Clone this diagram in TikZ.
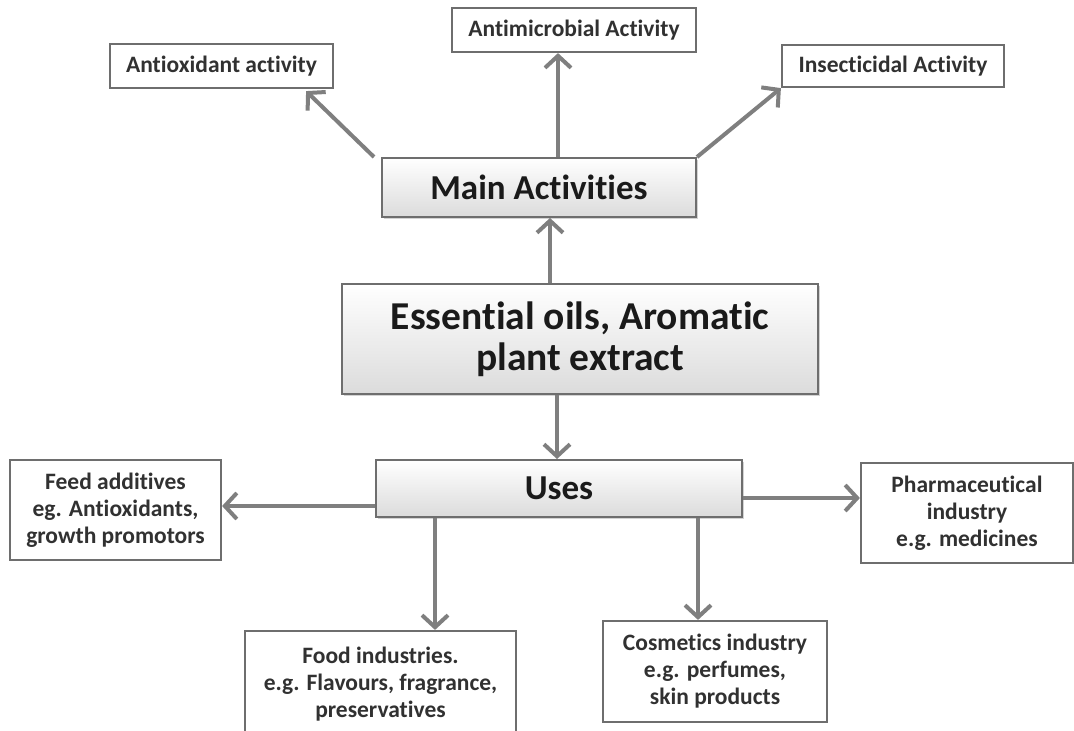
\documentclass[tikz,border=0pt]{standalone}
\usepackage{fontspec}
\setmainfont{Carlito}[Ligatures=CommonOff]
\usetikzlibrary{arrows.meta,shadows}
\definecolor{linegray}{HTML}{7F7F7F}
\definecolor{boxline}{HTML}{6E6E6E}
\definecolor{txt}{HTML}{1A1A1A}
\tikzset{
  bigbox/.style={draw=boxline, line width=2pt, top color=white, bottom color=gray!28,
    drop shadow={opacity=0.35, shadow xshift=2pt, shadow yshift=-2pt},
    text=txt, font=\bfseries\fontsize{35}{40}\selectfont, align=center, inner sep=0pt},
  smallbox/.style={draw=boxline, line width=2.2pt, fill=white, text=txt!90,
    font=\bfseries\fontsize{23.5}{27}\selectfont, align=center, inner sep=0pt},
  arr/.style={draw=linegray, line width=4pt,
    -{Straight Barb[length=12pt,width=26pt]}}
}
\begin{document}
\begin{tikzpicture}[x=1pt,y=-1pt]
\useasboundingbox (0,0) rectangle (1074,731);
% top boxes
\node[smallbox, minimum width=223pt, minimum height=44pt] (anti) at (221.5,66) {Antioxidant activity};
\node[smallbox, minimum width=244pt, minimum height=44pt] (micro) at (574,30) {Antimicrobial Activity};
\node[smallbox, minimum width=222pt, minimum height=42pt] (insect) at (893,66) {Insecticidal Activity};
% main boxes
\node[bigbox, minimum width=314pt, minimum height=59pt] (main) at (539,187.5) {Main Activities};
\node[bigbox, minimum width=476pt, minimum height=110pt, font=\bfseries\fontsize{39.5}{41}\selectfont] (ess) at (580,339) {Essential oils, Aromatic\\plant extract};
\node[bigbox, minimum width=366pt, minimum height=57pt] (uses) at (559,488.5) {Uses};
% bottom boxes
\node[smallbox, minimum width=211pt, minimum height=100pt] (feed) at (115.5,510) {Feed additives\\eg. Antioxidants,\\growth promotors};
\node[smallbox, minimum width=212pt, minimum height=100pt] (pharma) at (967,513) {Pharmaceutical\\industry\\e.g. medicines};
\node[smallbox, minimum width=271pt, minimum height=106pt] (food) at (380.5,684) {Food industries.\\e.g. Flavours, fragrance,\\preservatives};
\node[smallbox, minimum width=224pt, minimum height=101pt] (cosm) at (715,671.5) {Cosmetics industry\\e.g. perfumes,\\skin products};
% connectors
\draw[arr] ([xshift=-7pt]main.north west) -- ([xshift=-28pt,yshift=-2pt]anti.south east);
\draw[arr] ([xshift=19pt]main.north) -- ([xshift=-16pt]micro.south);
\draw[arr] (main.north east) -- (insect.south west);
\draw[arr] ([xshift=-30pt]ess.north) -- ([xshift=11pt]main.south);
\draw[arr] ([xshift=-23pt]ess.south) -- ([xshift=-2pt]uses.north);
\draw[arr] ([yshift=-17.5pt]uses.west) -- ([yshift=4pt]feed.east);
\draw[arr] ([yshift=-9.5pt]uses.east) -- ([yshift=15pt]pharma.west);
\draw[arr] ([xshift=-124pt]uses.south) -- ([xshift=54.5pt]food.north);
\draw[arr] ([xshift=139pt]uses.south) -- ([xshift=-17pt]cosm.north);
\end{tikzpicture}
\end{document}
